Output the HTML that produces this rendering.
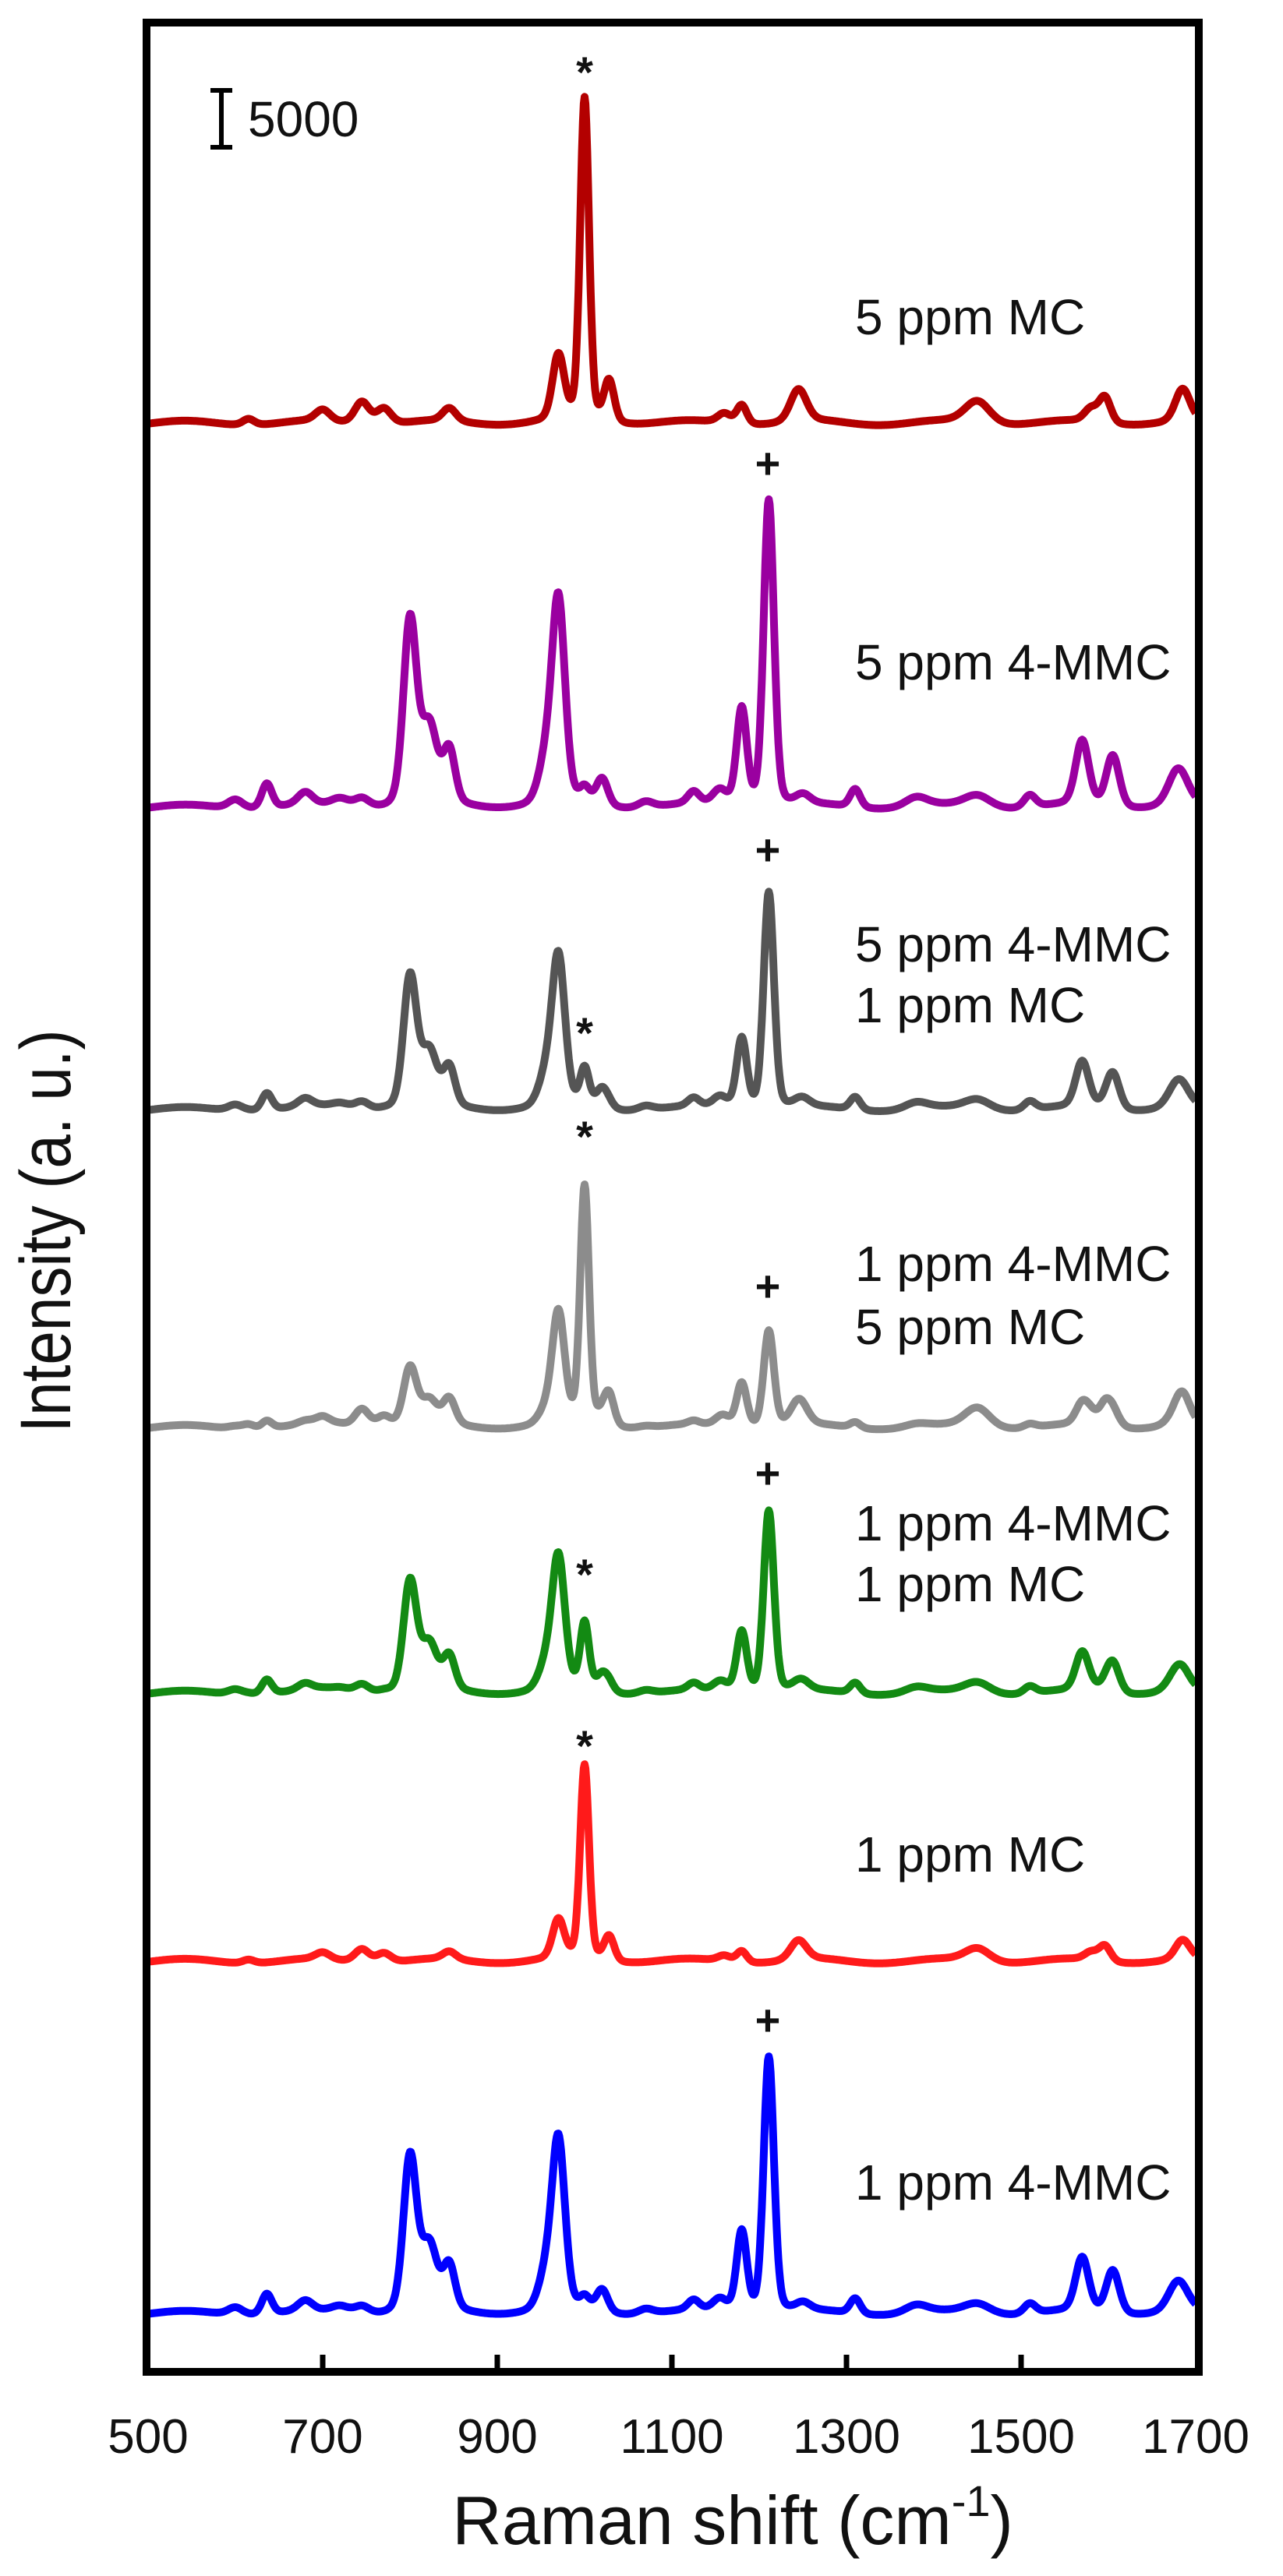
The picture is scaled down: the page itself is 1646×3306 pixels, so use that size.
<!DOCTYPE html>
<html><head><meta charset="utf-8"><style>
html,body{margin:0;padding:0;background:#fff;}
svg{display:block;}
text{font-family:"Liberation Sans",Arial,sans-serif;fill:#111;}
</style></head><body>
<svg id="s" width="1646" height="3306" viewBox="0 0 1646 3306" xmlns="http://www.w3.org/2000/svg">
<rect x="0" y="0" width="1646" height="3306" fill="#fff"/>
<g id="curves"></g>
<rect x="188" y="29" width="1350" height="3015" fill="none" stroke="#000" stroke-width="10"/>
<g stroke="#000" stroke-width="7">
<line x1="414" y1="3039" x2="414" y2="3022"/>
<line x1="638" y1="3039" x2="638" y2="3022"/>
<line x1="862" y1="3039" x2="862" y2="3022"/>
<line x1="1086" y1="3039" x2="1086" y2="3022"/>
<line x1="1310" y1="3039" x2="1310" y2="3022"/>
</g>
<g font-size="62" text-anchor="middle">
<text x="190" y="3148">500</text>
<text x="414" y="3148">700</text>
<text x="638" y="3148">900</text>
<text x="862" y="3148">1100</text>
<text x="1086" y="3148">1300</text>
<text x="1310" y="3148">1500</text>
<text x="1534" y="3148">1700</text>
</g>
<text x="940" y="3265" font-size="88" text-anchor="middle">Raman shift (cm<tspan font-size="56" dy="-36">-1</tspan><tspan dy="36">)</tspan></text>
<text transform="translate(90,1580) rotate(-90) scale(0.85,1)" font-size="92" text-anchor="middle">Intensity (a. u.)</text>
<g stroke="#000" stroke-width="6"><line x1="284" y1="113" x2="284" y2="192"/><line x1="270" y1="116" x2="298" y2="116"/><line x1="270" y1="189" x2="298" y2="189"/></g>
<text x="318" y="175" font-size="64">5000</text>
<g font-size="64">
<text x="1097" y="429">5 ppm MC</text>
<text x="1097" y="872">5 ppm 4-MMC</text>
<text x="1097" y="1234">5 ppm 4-MMC</text>
<text x="1097" y="1312">1 ppm MC</text>
<text x="1097" y="1644">1 ppm 4-MMC</text>
<text x="1097" y="1725">5 ppm MC</text>
<text x="1097" y="1977">1 ppm 4-MMC</text>
<text x="1097" y="2055">1 ppm MC</text>
<text x="1097" y="2402">1 ppm MC</text>
<text x="1097" y="2823">1 ppm 4-MMC</text>
</g>
<g font-size="56" text-anchor="middle" font-weight="bold">
<text x="750" y="112">*</text>
<text x="985" y="614">+</text>
<text x="985" y="1110">+</text>
<text x="750" y="1345">*</text>
<text x="750" y="1478">*</text>
<text x="985" y="1670">+</text>
<text x="985" y="1910">+</text>
<text x="750" y="2040">*</text>
<text x="750" y="2260">*</text>
<text x="985" y="2612">+</text>
</g>
</svg>
<script>
(function(){
var MMC=[[600,.03,10],[636,.08,7],[680,.04,10],[720,.025,12],[745,.03,10],[800,.6,9],[822,.25,11],[845,.17,8],[955,.12,10],[970,.66,9],[1000,.05,7],[1020,.09,8],[1070,.02,10],[1125,.04,8],[1155,.05,10],[1180,.32,7],[1211,1,7],[1250,.03,10],[1310,.06,7],[1380,.03,15],[1450,.04,18],[1510,.04,8],[1570,.21,9],[1605,.17,9],[1680,.12,13]];
var MC=[[615,.02,8],[700,.035,10],[745,.07,10],[770,.05,10],[845,.04,9],[970,.2,8],[1000,1,6],[1028,.13,7],[1160,.03,9],[1180,.06,7],[1245,.1,11],[1450,.07,17],[1580,.04,9],[1596,.08,8],[1685,.1,10]];
function f(p,x){var s=0;for(var i=0;i<p.length;i++){var d=(x-p[i][0])/p[i][2];s+=p[i][1]*(0.75*Math.exp(-0.693*d*d)+0.25/(1+d*d));}return s;}
var series=[[543,0,415,'#b30000'],[1036,395,0,'#9a00a0'],[1424,280,35,'#555555'],[1832,125,300,'#8c8c8c'],[2173,235,75,'#138a13'],[2517,0,250,'#ff1a1a'],[2969,330,0,'#0000ff']];
var g=document.getElementById('curves'),ns='http://www.w3.org/2000/svg';
series.forEach(function(s){var d='';for(var v=500;v<=1700;v+=1){var X=190+(v-500)*1.12;var Y=s[0]-s[1]*f(MMC,v)-s[2]*f(MC,v)+3*Math.sin(v/23);d+=(v==500?'M':'L')+X.toFixed(1)+' '+Y.toFixed(1);}
var p=document.createElementNS(ns,'path');p.setAttribute('d',d);p.setAttribute('fill','none');p.setAttribute('stroke',s[3]);p.setAttribute('stroke-width','10');p.setAttribute('stroke-linejoin','round');g.appendChild(p);});
})();
</script>
</body></html>
